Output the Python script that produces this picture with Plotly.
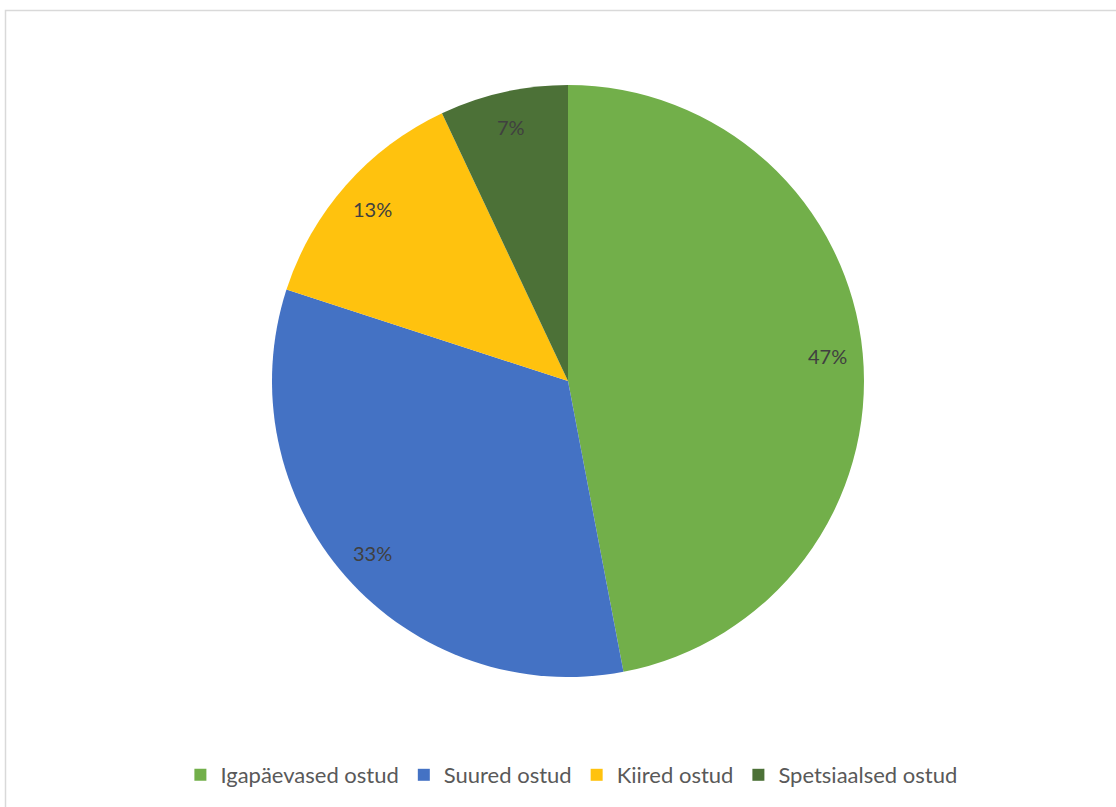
import math
import plotly.graph_objects as go

categories = ["Igapäevased ostud", "Suured ostud", "Kiired ostud", "Spetsiaalsed ostud"]
values = [47, 33, 13, 7]
colors = ["#72AF4A", "#4472C4", "#FFC20E", "#4C7137"]

W, H = 1116, 807
cx, cy, R = 568, 381, 296
label_r = 0.88 * R

fig = go.Figure(go.Pie(
    labels=categories,
    values=values,
    sort=False,
    direction="clockwise",
    rotation=0,
    marker=dict(colors=colors, line=dict(width=0)),
    textinfo="none",
    domain=dict(x=[(cx - R) / W, (cx + R) / W], y=[1 - (cy + R) / H, 1 - (cy - R) / H]),
    hoverinfo="label+percent",
))

# Data labels placed near the outer part of each slice (Excel-style "best fit")
total = sum(values)
cum = 0
annotations = []
for v in values:
    mid = (cum + v / 2) / total * 2 * math.pi
    cum += v
    px = cx + label_r * math.sin(mid)
    py = cy - label_r * math.cos(mid)
    annotations.append(dict(
        x=px / W, y=1 - py / H, xref="paper", yref="paper",
        text=f"{round(v / total * 100)}%", showarrow=False,
        font=dict(family="Lato, Noto Sans, sans-serif", size=20, color="#404040"),
        xanchor="center", yanchor="middle",
    ))

fig.update_layout(
    width=W, height=H,
    margin=dict(l=0, r=0, t=0, b=0),
    paper_bgcolor="white",
    plot_bgcolor="white",
    showlegend=True,
    annotations=annotations,
    legend=dict(
        orientation="h",
        x=0.512, xanchor="center",
        y=1 - 775 / H, yanchor="middle",
        font=dict(family="Lato, Noto Sans, sans-serif", size=22, color="#595959"),
        itemsizing="constant",
        traceorder="normal",
        itemwidth=30,
    ),
    shapes=[dict(
        type="rect", xref="paper", yref="paper",
        x0=5.5 / W, x1=1.02, y0=-0.02, y1=1 - 10.5 / H,
        line=dict(color="#D9D9D9", width=1.5),
        fillcolor="rgba(0,0,0,0)",
        layer="below",
    )],
)

fig.write_html("out.html")
